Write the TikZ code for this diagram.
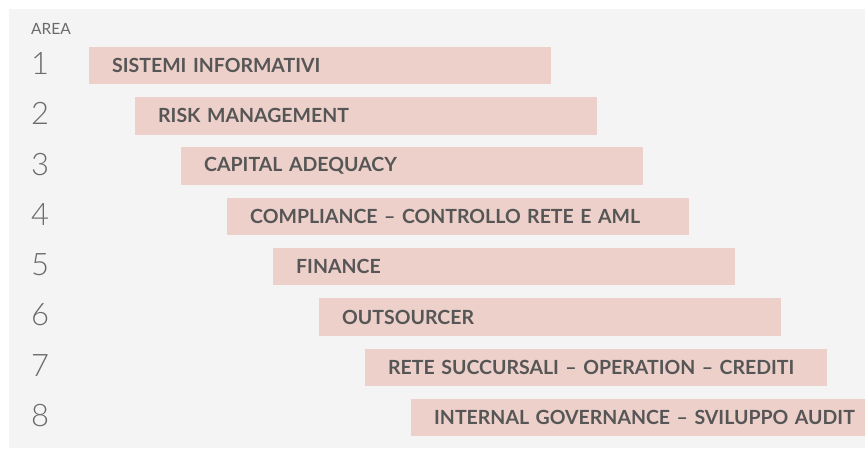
\documentclass[tikz,border=0pt]{standalone}
\usepackage{fontspec}
\setmainfont{Lato}
\newfontfamily\latolight{Lato Light}
\usetikzlibrary{positioning}
\definecolor{cbar}{HTML}{EDD0CA}
\definecolor{cpanel}{HTML}{F4F4F4}
\definecolor{ctext}{HTML}{565656}
\definecolor{cnum}{HTML}{6A6A6A}
\tikzset{
  every picture/.style={x=1pt, y=-1pt},
  bar/.style={fill=cbar, anchor=west, minimum height=37.5pt, inner ysep=0pt,
    inner xsep=23pt, text width=416pt, align=left, text=ctext,
    font=\fontsize{19.5}{21}\selectfont\bfseries},
  num/.style={text=cnum, inner sep=0pt, font=\latolight\fontsize{31}{33}\selectfont},
  head/.style={text=cnum, inner sep=0pt, anchor=west, font=\fontsize{15.5}{17}\selectfont},
}

\begin{document}
\begin{tikzpicture}
  \useasboundingbox (0,0) rectangle (865,448);
  \fill[cpanel] (9,9) rectangle (865,448);
  \node[head] (area) at (31,29) {AREA};
  % one bar per area, shifted right and down
  \foreach \i/\name in {1/SISTEMI INFORMATIVI, 2/RISK MANAGEMENT, 3/CAPITAL ADEQUACY,
      4/COMPLIANCE -- CONTROLLO RETE E AML, 5/FINANCE, 6/OUTSOURCER,
      7/RETE SUCCURSALI -- OPERATION -- CREDITI, 8/INTERNAL GOVERNANCE -- SVILUPPO AUDIT} {
    \node[bar] (bar\i) at ({89+46*(\i-1)}, {65.5+50.3*(\i-1)}) {\mbox{\name}};
    \node[num] (num\i) at (40, {63.5+50.3*(\i-1)}) {\i};
  }
\end{tikzpicture}
\end{document}
